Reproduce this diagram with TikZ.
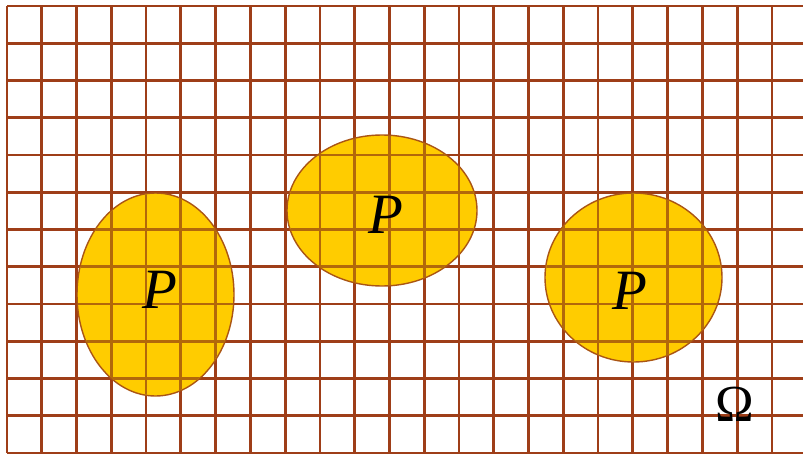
\documentclass[tikz,border=0pt]{standalone}
\usepackage{fontspec}
\setmainfont{Liberation Serif}
\definecolor{gridbrown}{RGB}{158,62,24}
\definecolor{gridin}{RGB}{178,104,10}
\definecolor{blobfill}{RGB}{255,204,0}
\definecolor{blobedge}{RGB}{170,85,20}
\newcommand\mygrid[1]{%
  \foreach \i in {0,...,22} \draw[line width=2.8pt,#1] ({7+34.77*\i},6) -- ({7+34.77*\i},453);
  \foreach \j in {0,...,12} \draw[line width=2.8pt,#1] (7,{6+37.25*\j}) -- (810,{6+37.25*\j});
}
\begin{document}
\begin{tikzpicture}[x=1pt,y=-1pt,
  blob/.style={fill=blobfill,draw=blobedge,line width=1.4pt},
  lbl/.style={inner sep=0pt,text=black,font=\fontsize{57}{60}\selectfont\itshape},
  omlbl/.style={inner sep=0pt,text=black,font=\fontsize{52}{56}\selectfont}]
\useasboundingbox (0,0) rectangle (803,455);
\clip (0,0) rectangle (803,455);
\mygrid{gridbrown}
% blobs
\path[blob] (155.5,294.5) ellipse [x radius=78.5, y radius=101.5];
\path[blob] (382,210.5) ellipse [x radius=95, y radius=75.5];
\path[blob] (633.5,277.5) ellipse [x radius=88.5, y radius=84.5];
\begin{scope}
  \clip (155.5,294.5) ellipse [x radius=77.8, y radius=100.8];
  \mygrid{gridin}
\end{scope}
\begin{scope}
  \clip (382,210.5) ellipse [x radius=94.3, y radius=74.8];
  \mygrid{gridin}
\end{scope}
\begin{scope}
  \clip (633.5,277.5) ellipse [x radius=87.8, y radius=83.8];
  \mygrid{gridin}
\end{scope}
\node[lbl] (p1) at (160,290) {P};
\node[lbl] (p2) at (386,215) {P};
\node[lbl] (p3) at (630,291) {P};
\node[omlbl] (om) at (735,404) {Ω};
\end{tikzpicture}
\end{document}
